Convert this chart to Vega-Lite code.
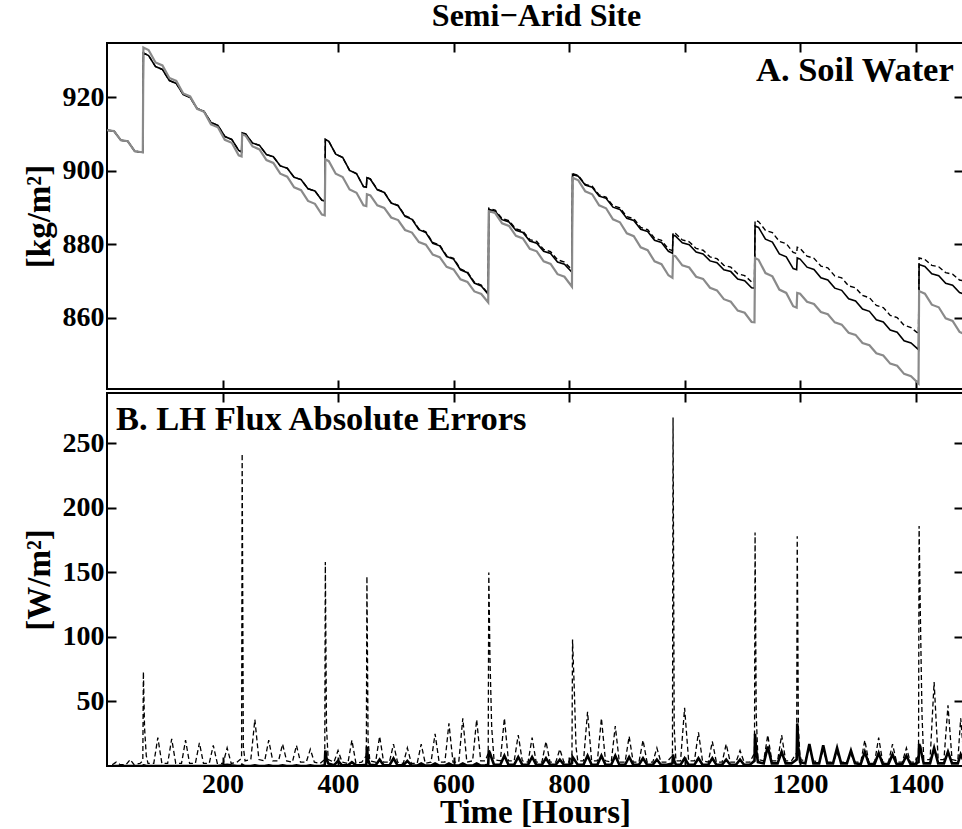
{
"$schema": "https://vega.github.io/schema/vega-lite/v6.json",
"background": "white",
"padding": {"left": 22, "top": 0, "right": 0, "bottom": 0},
"title": {"text": "Semi−Arid Site", "anchor": "middle", "dx": 43, "baseline": "alphabetic", "offset": -17, "fontSize": 32},
"spacing": 0,
"datasets": {
"soil": [
{"h":0,"g":911,"b":911,"d":911},{"h":12,"g":910.8,"b":910.8,"d":910.8},{"h":24,"g":908.3,"b":908.3,"d":908.3},{"h":36,"g":908.0,"b":908.0,"d":908.0},{"h":48,"g":905.3,"b":905.3,"d":905.3},{"h":62,"g":905.0,"b":905.0,"d":905.0},
{"h":63,"g":933.5,"b":932.0,"d":932.0},{"h":72,"g":932.8,"b":931.3,"d":931.3},{"h":84,"g":929.4,"b":928.3,"d":928.3},{"h":96,"g":928.6,"b":927.5,"d":927.5},{"h":108,"g":925.2,"b":924.5,"d":924.5},{"h":120,"g":924.4,"b":923.7,"d":923.7},{"h":132,"g":921.0,"b":920.7,"d":920.7},{"h":144,"g":920.2,"b":919.9,"d":919.9},{"h":156,"g":916.8,"b":916.9,"d":916.9},{"h":168,"g":916.0,"b":916.1,"d":916.1},{"h":180,"g":912.6,"b":913.1,"d":913.1},{"h":192,"g":911.8,"b":912.3,"d":912.3},{"h":204,"g":908.4,"b":909.3,"d":909.3},{"h":216,"g":907.6,"b":908.5,"d":908.5},{"h":228,"g":904.2,"b":905.5,"d":905.5},{"h":233,"g":903.9,"b":905.1,"d":905.1},
{"h":234,"g":909.9,"b":910.3,"d":910.3},{"h":240,"g":909.5,"b":910.0,"d":910.0},{"h":252,"g":906.6,"b":907.5,"d":907.5},{"h":264,"g":905.8,"b":906.9,"d":906.9},{"h":276,"g":902.9,"b":904.4,"d":904.4},{"h":288,"g":902.1,"b":903.8,"d":903.8},{"h":300,"g":899.2,"b":901.3,"d":901.3},{"h":312,"g":898.4,"b":900.7,"d":900.7},{"h":324,"g":895.5,"b":898.2,"d":898.2},{"h":336,"g":894.7,"b":897.6,"d":897.6},{"h":348,"g":891.8,"b":895.1,"d":895.1},{"h":360,"g":891.0,"b":894.5,"d":894.5},{"h":372,"g":888.1,"b":892.0,"d":892.0},{"h":377,"g":887.9,"b":891.8,"d":891.8},
{"h":378,"g":903.1,"b":908.5,"d":908.5},{"h":384,"g":902.6,"b":908.0,"d":908.0},{"h":396,"g":899.2,"b":904.5,"d":904.5},{"h":408,"g":898.3,"b":903.6,"d":903.6},{"h":420,"g":894.9,"b":900.1,"d":900.1},{"h":432,"g":894.0,"b":899.2,"d":899.2},{"h":444,"g":890.6,"b":895.7,"d":895.7},{"h":449,"g":890.4,"b":895.5,"d":895.5},
{"h":450,"g":893.6,"b":898.1,"d":898.2},{"h":456,"g":893.3,"b":897.7,"d":897.8},{"h":468,"g":890.6,"b":894.8,"d":894.9},{"h":480,"g":889.9,"b":894.1,"d":894.2},{"h":492,"g":887.3,"b":891.2,"d":891.3},{"h":504,"g":886.6,"b":890.5,"d":890.6},{"h":516,"g":883.9,"b":887.6,"d":887.8},{"h":528,"g":883.2,"b":886.8,"d":887.0},{"h":540,"g":880.6,"b":884.0,"d":884.2},{"h":552,"g":879.9,"b":883.2,"d":883.4},{"h":564,"g":877.2,"b":880.3,"d":880.5},{"h":576,"g":876.5,"b":879.6,"d":879.8},{"h":588,"g":873.9,"b":876.7,"d":876.9},{"h":600,"g":873.2,"b":876.0,"d":876.2},{"h":612,"g":870.5,"b":873.1,"d":873.3},{"h":624,"g":869.8,"b":872.3,"d":872.5},{"h":636,"g":867.2,"b":869.5,"d":869.7},{"h":648,"g":866.5,"b":868.7,"d":868.9},{"h":660,"g":864.2,"b":866.4,"d":866.6},
{"h":661,"g":889.0,"b":889.5,"d":889.8},{"h":672,"g":888.5,"b":889.0,"d":889.3},{"h":684,"g":885.7,"b":886.7,"d":887.0},{"h":696,"g":885.0,"b":886.1,"d":886.4},{"h":708,"g":882.3,"b":883.8,"d":884.2},{"h":720,"g":881.6,"b":883.2,"d":883.6},{"h":732,"g":878.8,"b":880.9,"d":881.3},{"h":744,"g":878.1,"b":880.3,"d":880.8},{"h":756,"g":875.4,"b":878.1,"d":878.6},{"h":768,"g":874.7,"b":877.5,"d":878.0},{"h":780,"g":871.9,"b":875.2,"d":875.8},{"h":792,"g":871.2,"b":874.6,"d":875.2},{"h":805,"g":868.5,"b":872.4,"d":873.1},
{"h":806,"g":898.1,"b":899.0,"d":899.2},{"h":816,"g":897.4,"b":898.5,"d":898.7},{"h":828,"g":894.4,"b":896.1,"d":896.3},{"h":840,"g":893.6,"b":895.5,"d":895.8},{"h":852,"g":890.6,"b":893.1,"d":893.4},{"h":864,"g":889.8,"b":892.5,"d":892.8},{"h":876,"g":886.8,"b":890.1,"d":890.5},{"h":888,"g":886.0,"b":889.5,"d":889.9},{"h":900,"g":883.0,"b":887.1,"d":887.5},{"h":912,"g":882.2,"b":886.5,"d":887.0},{"h":924,"g":879.2,"b":884.1,"d":884.6},{"h":936,"g":878.4,"b":883.5,"d":884.0},{"h":948,"g":875.4,"b":881.1,"d":881.7},{"h":960,"g":874.6,"b":880.5,"d":881.1},{"h":972,"g":871.6,"b":878.1,"d":878.7},{"h":979,"g":870.9,"b":877.6,"d":878.3},
{"h":980,"g":877.0,"b":882.5,"d":883.2},{"h":984,"g":876.8,"b":882.3,"d":883.0},{"h":996,"g":874.3,"b":880.4,"d":881.2},{"h":1008,"g":873.7,"b":879.9,"d":880.7},{"h":1020,"g":871.2,"b":877.9,"d":878.9},{"h":1032,"g":870.6,"b":877.4,"d":878.4},{"h":1044,"g":868.2,"b":875.5,"d":876.6},{"h":1056,"g":867.5,"b":875.0,"d":876.1},{"h":1068,"g":865.1,"b":873.1,"d":874.3},{"h":1080,"g":864.4,"b":872.6,"d":873.8},{"h":1092,"g":862.0,"b":870.6,"d":872.0},{"h":1104,"g":861.4,"b":870.1,"d":871.5},{"h":1116,"g":858.9,"b":868.2,"d":869.8},{"h":1121,"g":858.8,"b":868.1,"d":869.7},
{"h":1122,"g":876.3,"b":885.0,"d":886.5},{"h":1128,"g":875.8,"b":884.6,"d":886.2},{"h":1140,"g":872.2,"b":881.4,"d":883.8},{"h":1152,"g":871.3,"b":880.6,"d":883.2},{"h":1164,"g":867.7,"b":877.4,"d":880.8},{"h":1176,"g":866.8,"b":876.6,"d":880.2},{"h":1188,"g":863.2,"b":873.4,"d":877.8},{"h":1194,"g":862.8,"b":873.1,"d":877.5},
{"h":1195,"g":866.8,"b":876.3,"d":879.2},{"h":1200,"g":866.6,"b":876.0,"d":878.9},{"h":1212,"g":864.4,"b":873.8,"d":876.8},{"h":1224,"g":863.8,"b":873.2,"d":876.2},{"h":1236,"g":861.6,"b":870.9,"d":874.1},{"h":1248,"g":861.0,"b":870.3,"d":873.6},{"h":1260,"g":858.8,"b":868.1,"d":871.4},{"h":1272,"g":858.2,"b":867.5,"d":870.9},{"h":1284,"g":856.0,"b":865.2,"d":868.7},{"h":1296,"g":855.4,"b":864.6,"d":868.2},{"h":1308,"g":853.2,"b":862.4,"d":866.1},{"h":1320,"g":852.6,"b":861.8,"d":865.5},{"h":1332,"g":850.4,"b":859.5,"d":863.4},{"h":1344,"g":849.8,"b":858.9,"d":862.8},{"h":1356,"g":847.6,"b":856.7,"d":860.7},{"h":1368,"g":847.0,"b":856.1,"d":860.1},{"h":1380,"g":844.8,"b":853.8,"d":858.0},{"h":1392,"g":844.2,"b":853.2,"d":857.4},{"h":1405,"g":842.2,"b":851.4,"d":855.7},
{"h":1406,"g":867.3,"b":874.5,"d":876.3},{"h":1416,"g":866.6,"b":874.0,"d":875.9},{"h":1428,"g":863.6,"b":872.0,"d":874.3},{"h":1440,"g":862.9,"b":871.5,"d":873.9},{"h":1452,"g":859.9,"b":869.4,"d":872.3},{"h":1464,"g":859.2,"b":868.9,"d":871.9},{"h":1476,"g":856.2,"b":866.9,"d":870.3},{"h":1482,"g":855.8,"b":866.6,"d":870.1}
],
"lh": [
{"h":9,"d":1,"s":0},{"h":16,"d":3,"s":0},{"h":23,"d":1,"s":0},
{"h":33,"d":1,"s":0},{"h":40,"d":5,"s":0},{"h":47,"d":1,"s":0},
{"h":57,"d":2,"s":0},{"h":62,"d":4,"s":0},{"h":63,"d":73,"s":0.5},{"h":65,"d":30,"s":0.3},{"h":68,"d":8,"s":0},{"h":71,"d":2,"s":0},
{"h":81,"d":2,"s":0},{"h":88,"d":22,"s":0},{"h":95,"d":2,"s":0},
{"h":105,"d":2,"s":0},{"h":112,"d":21,"s":0},{"h":119,"d":2,"s":0},
{"h":129,"d":2,"s":0},{"h":136,"d":20,"s":0},{"h":143,"d":2,"s":0},
{"h":153,"d":2,"s":0},{"h":160,"d":18,"s":0},{"h":167,"d":2,"s":0},
{"h":177,"d":2,"s":0},{"h":184,"d":16,"s":0},{"h":191,"d":2,"s":0},
{"h":201,"d":2,"s":0.5},{"h":208,"d":14,"s":1},{"h":215,"d":2,"s":0.5},
{"h":225,"d":3,"s":0},{"h":233,"d":6,"s":0},{"h":234,"d":242,"s":1},{"h":236,"d":15,"s":0.5},{"h":239,"d":4,"s":0},
{"h":249,"d":5,"s":0},{"h":256,"d":36,"s":0.5},{"h":263,"d":5,"s":0},
{"h":273,"d":4,"s":0},{"h":280,"d":20,"s":0.5},{"h":287,"d":4,"s":0},
{"h":297,"d":4,"s":0},{"h":304,"d":17,"s":0.5},{"h":311,"d":4,"s":0},
{"h":321,"d":3,"s":0},{"h":328,"d":16,"s":0.5},{"h":335,"d":3,"s":0},
{"h":345,"d":3,"s":0},{"h":352,"d":13,"s":0.5},{"h":359,"d":3,"s":0},
{"h":369,"d":2,"s":0},{"h":377,"d":5,"s":0.5},{"h":378,"d":158,"s":12},{"h":380,"d":30,"s":6},{"h":383,"d":5,"s":2},
{"h":393,"d":3,"s":0.5},{"h":400,"d":12,"s":4},{"h":407,"d":3,"s":0.5},
{"h":417,"d":2,"s":0.5},{"h":424,"d":20,"s":3},{"h":431,"d":2,"s":0.5},
{"h":441,"d":3,"s":0.5},{"h":449,"d":8,"s":1},{"h":450,"d":147,"s":15},{"h":452,"d":20,"s":5},{"h":455,"d":4,"s":1},
{"h":465,"d":3,"s":0.5},{"h":472,"d":23,"s":5},{"h":479,"d":3,"s":0.5},
{"h":489,"d":3,"s":0.5},{"h":496,"d":17,"s":6},{"h":503,"d":3,"s":0.5},
{"h":513,"d":2,"s":0.5},{"h":520,"d":14,"s":4},{"h":527,"d":2,"s":0.5},
{"h":537,"d":2,"s":0.3},{"h":544,"d":17,"s":2},{"h":551,"d":2,"s":0.3},
{"h":561,"d":3,"s":0.3},{"h":568,"d":25,"s":2},{"h":575,"d":3,"s":0.3},
{"h":585,"d":3,"s":0.3},{"h":592,"d":33,"s":2},{"h":599,"d":3,"s":0.3},
{"h":609,"d":3,"s":0.3},{"h":616,"d":37,"s":2},{"h":623,"d":3,"s":0.3},
{"h":633,"d":4,"s":0.3},{"h":640,"d":36,"s":2},{"h":647,"d":4,"s":0.3},
{"h":655,"d":4,"s":0.5},{"h":660,"d":10,"s":1},{"h":661,"d":150,"s":12},{"h":663,"d":84,"s":10},{"h":666,"d":30,"s":6},{"h":670,"d":5,"s":1},
{"h":681,"d":4,"s":1},{"h":688,"d":37,"s":8},{"h":695,"d":4,"s":1},
{"h":705,"d":4,"s":1},{"h":712,"d":24,"s":7},{"h":719,"d":4,"s":1},
{"h":729,"d":3,"s":1},{"h":736,"d":22,"s":7},{"h":743,"d":3,"s":1},
{"h":753,"d":3,"s":1},{"h":760,"d":19,"s":6},{"h":767,"d":3,"s":1},
{"h":777,"d":3,"s":1},{"h":784,"d":13,"s":5},{"h":791,"d":3,"s":1},
{"h":799,"d":3,"s":1},{"h":805,"d":8,"s":2},{"h":806,"d":98,"s":7},{"h":809,"d":60,"s":5},{"h":812,"d":15,"s":3},{"h":815,"d":4,"s":1},
{"h":825,"d":4,"s":1},{"h":832,"d":42,"s":8},{"h":839,"d":4,"s":1},
{"h":849,"d":4,"s":1},{"h":856,"d":37,"s":8},{"h":863,"d":4,"s":1},
{"h":873,"d":3,"s":1},{"h":880,"d":31,"s":8},{"h":887,"d":3,"s":1},
{"h":897,"d":3,"s":1},{"h":904,"d":23,"s":7},{"h":911,"d":3,"s":1},
{"h":921,"d":3,"s":1},{"h":928,"d":20,"s":6},{"h":935,"d":3,"s":1},
{"h":945,"d":3,"s":1},{"h":952,"d":14,"s":5},{"h":959,"d":3,"s":1},
{"h":969,"d":3,"s":1},{"h":979,"d":8,"s":2},{"h":980,"d":270,"s":9},{"h":982,"d":30,"s":4},{"h":985,"d":4,"s":1},
{"h":993,"d":4,"s":1},{"h":1000,"d":45,"s":6},{"h":1007,"d":4,"s":1},
{"h":1017,"d":4,"s":1},{"h":1024,"d":26,"s":6},{"h":1031,"d":4,"s":1},
{"h":1041,"d":3,"s":1},{"h":1048,"d":19,"s":6},{"h":1055,"d":3,"s":1},
{"h":1065,"d":3,"s":1},{"h":1072,"d":17,"s":5},{"h":1079,"d":3,"s":1},
{"h":1089,"d":3,"s":1},{"h":1096,"d":12,"s":5},{"h":1103,"d":3,"s":1},
{"h":1113,"d":3,"s":1},{"h":1121,"d":10,"s":4},{"h":1122,"d":181,"s":25},{"h":1124,"d":40,"s":12},{"h":1127,"d":5,"s":3},
{"h":1137,"d":4,"s":2},{"h":1144,"d":24,"s":15},{"h":1151,"d":4,"s":2},
{"h":1161,"d":4,"s":2},{"h":1168,"d":24,"s":11},{"h":1175,"d":4,"s":2},
{"h":1185,"d":4,"s":2},{"h":1194,"d":10,"s":5},{"h":1195,"d":178,"s":33},{"h":1197,"d":30,"s":14},{"h":1200,"d":5,"s":3},
{"h":1209,"d":4,"s":2},{"h":1216,"d":14,"s":17},{"h":1223,"d":4,"s":2},
{"h":1233,"d":3,"s":2},{"h":1240,"d":12,"s":16},{"h":1247,"d":3,"s":2},
{"h":1257,"d":3,"s":2},{"h":1264,"d":10,"s":14},{"h":1271,"d":3,"s":2},
{"h":1281,"d":3,"s":2},{"h":1288,"d":9,"s":12},{"h":1295,"d":3,"s":2},
{"h":1305,"d":3,"s":1.5},{"h":1312,"d":20,"s":11},{"h":1319,"d":3,"s":1.5},
{"h":1329,"d":3,"s":1.5},{"h":1336,"d":22,"s":10},{"h":1343,"d":3,"s":1.5},
{"h":1353,"d":3,"s":1.5},{"h":1360,"d":17,"s":9},{"h":1367,"d":3,"s":1.5},
{"h":1377,"d":3,"s":1.5},{"h":1384,"d":14,"s":8},{"h":1391,"d":3,"s":1.5},
{"h":1398,"d":3,"s":1.5},{"h":1405,"d":8,"s":3},{"h":1406,"d":186,"s":17},{"h":1408,"d":122,"s":15},{"h":1411,"d":40,"s":8},{"h":1414,"d":5,"s":2},
{"h":1425,"d":5,"s":2},{"h":1432,"d":65,"s":14},{"h":1439,"d":5,"s":2},
{"h":1449,"d":5,"s":2},{"h":1456,"d":47,"s":11},{"h":1463,"d":5,"s":2},
{"h":1473,"d":4,"s":2},{"h":1478,"d":37,"s":9},{"h":1482,"d":15,"s":5}
],
"labels": [{"panel": "A", "text": "A. Soil Water"}, {"panel": "B", "text": "B. LH Flux Absolute Errors"}]
},
"vconcat": [
{
"width": 856, "height": 346,
"layer": [
{"data": {"name": "soil"},
 "mark": {"type": "line", "color": "black", "strokeWidth": 1.4, "strokeDash": [5, 3], "clip": true},
 "encoding": {
  "x": {"field": "h", "type": "quantitative", "scale": {"domain": [0, 1482], "nice": false, "zero": false}, "axis": {"orient": "bottom", "values": [200, 400, 600, 800, 1000, 1200, 1400], "labels": false, "title": null}},
  "y": {"field": "d", "type": "quantitative", "scale": {"domain": [840.7, 934.7], "nice": false, "zero": false}, "axis": {"orient": "left", "values": [860, 880, 900, 920], "title": "[kg/m²]", "labelPadding": 12, "titlePadding": 6}}
 }},
{"data": {"name": "soil"},
 "mark": {"type": "line", "color": "black", "strokeWidth": 1.6, "clip": true},
 "encoding": {
  "x": {"field": "h", "type": "quantitative", "axis": null},
  "y": {"field": "b", "type": "quantitative", "axis": null}
 }},
{"data": {"name": "soil"},
 "mark": {"type": "line", "color": "#8a8a8a", "strokeWidth": 2.2, "clip": true},
 "encoding": {
  "x": {"field": "h", "type": "quantitative", "axis": {"orient": "top", "values": [200, 400, 600, 800, 1000, 1200, 1400], "labels": false, "title": null}},
  "y": {"field": "g", "type": "quantitative", "axis": {"orient": "right", "values": [860, 880, 900, 920], "labels": false, "title": null}}
 }},
{"data": {"name": "labels"},
 "transform": [{"filter": "datum.panel == 'A'"}],
 "mark": {"type": "text", "align": "right", "baseline": "alphabetic", "font": "Liberation Serif", "fontWeight": "bold", "fontSize": 34.5, "color": "black"},
 "encoding": {
  "x": {"datum": 1466, "type": "quantitative", "axis": null},
  "y": {"datum": 924.4, "type": "quantitative", "axis": null},
  "text": {"field": "text"}
 }}
],
"resolve": {"axis": {"x": "independent", "y": "independent"}}
},
{
"width": 856, "height": 373,
"layer": [
{"data": {"name": "lh"},
 "mark": {"type": "line", "color": "black", "strokeWidth": 1.3, "strokeDash": [5, 3], "clip": true},
 "encoding": {
  "x": {"field": "h", "type": "quantitative", "scale": {"domain": [0, 1482], "nice": false, "zero": false}, "axis": {"orient": "bottom", "values": [200, 400, 600, 800, 1000, 1200, 1400], "format": "d", "title": "Time [Hours]", "labelPadding": 13, "titlePadding": -2}},
  "y": {"field": "d", "type": "quantitative", "scale": {"domain": [0, 289], "nice": false, "zero": false}, "axis": {"orient": "left", "values": [50, 100, 150, 200, 250], "title": "[W/m²]", "labelPadding": 12, "titlePadding": 6}}
 }},
{"data": {"name": "lh"},
 "mark": {"type": "line", "color": "black", "strokeWidth": 2.6, "clip": true},
 "encoding": {
  "x": {"field": "h", "type": "quantitative", "axis": {"orient": "top", "values": [200, 400, 600, 800, 1000, 1200, 1400], "labels": false, "title": null}},
  "y": {"field": "s", "type": "quantitative", "axis": {"orient": "right", "values": [50, 100, 150, 200, 250], "labels": false, "title": null}}
 }},
{"data": {"name": "labels"},
 "transform": [{"filter": "datum.panel == 'B'"}],
 "mark": {"type": "text", "align": "left", "baseline": "alphabetic", "font": "Liberation Serif", "fontWeight": "bold", "fontSize": 34.5, "color": "black"},
 "encoding": {
  "x": {"datum": 15.6, "type": "quantitative", "axis": null},
  "y": {"datum": 260.3, "type": "quantitative", "axis": null},
  "text": {"field": "text"}
 }}
],
"resolve": {"axis": {"x": "independent", "y": "independent"}}
}
],
"config": {
 "view": {"stroke": "black", "strokeWidth": 2},
 "axis": {"labelFont": "Liberation Serif", "labelFontWeight": "bold", "labelFontSize": 28, "labelColor": "black", "titleFont": "Liberation Serif", "titleFontWeight": "bold", "titleFontSize": 33, "titleColor": "black", "domain": false, "grid": false, "tickColor": "black", "tickWidth": 2, "tickSize": -9},
 "title": {"font": "Liberation Serif", "fontWeight": "bold", "color": "black"}
}
}
